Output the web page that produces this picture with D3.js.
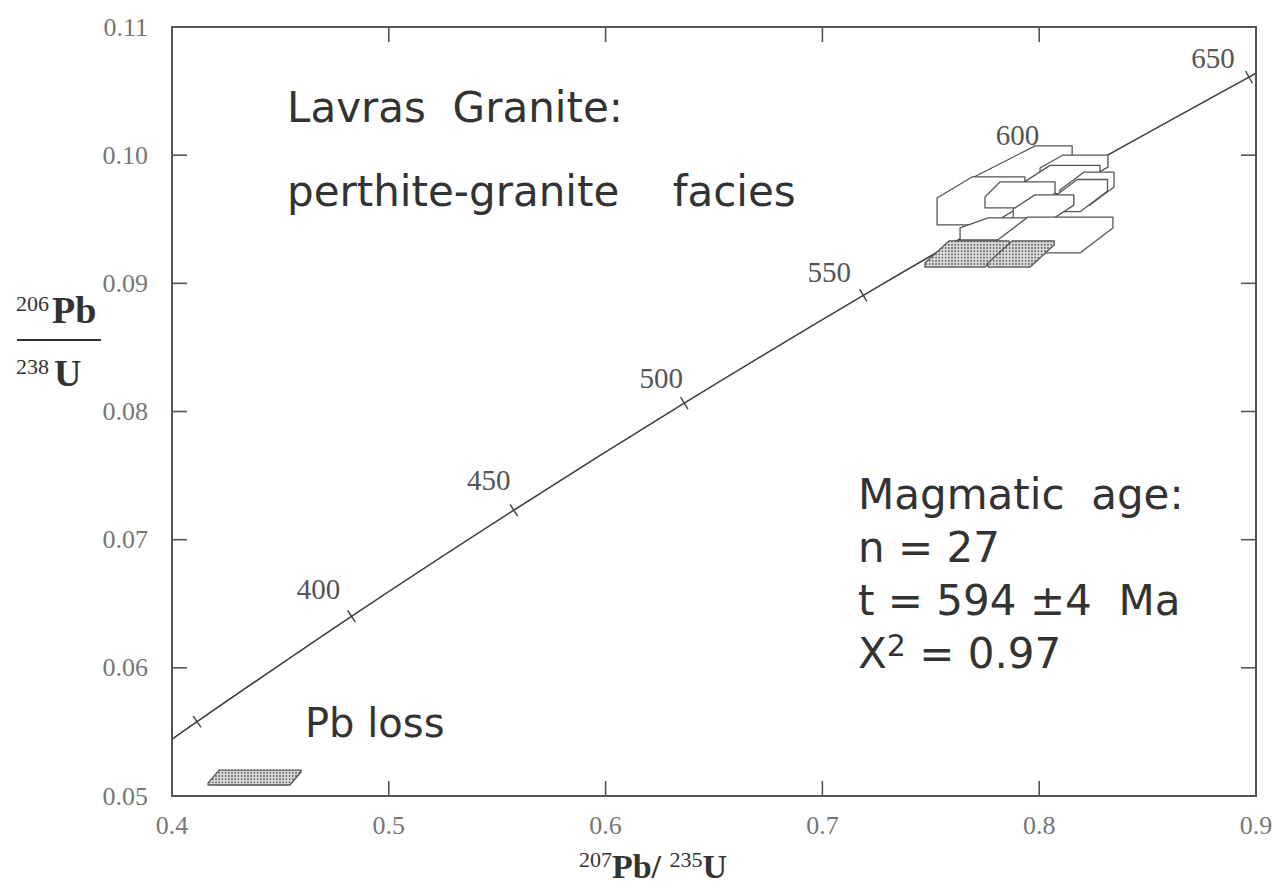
<!DOCTYPE html>
<html>
<head>
<meta charset="utf-8">
<script src="https://cdn.jsdelivr.net/npm/d3@7"></script>
<style>
  html, body { margin: 0; padding: 0; background: #ffffff; }
  svg { display: block; }
</style>
</head>
<body>
<svg id="chart" width="1273" height="892"></svg>
<script>
// Axis ticks
const xTicks = [0.4, 0.5, 0.6, 0.7, 0.8, 0.9];
const yTicks = [0.05, 0.06, 0.07, 0.08, 0.09, 0.10, 0.11];

// Concordia points (age in Ma, 207Pb/235U, 206Pb/238U)
const concordiaAge = [340, 350, 400, 450, 500, 550, 600, 650, 660];
const concordia207 = [0.39773, 0.41156, 0.48281, 0.55766, 0.63628, 0.71887, 0.80563, 0.89677, 0.91554];
const concordia206 = [0.05416, 0.05580, 0.06402, 0.07230, 0.08065, 0.08906, 0.09754, 0.10609, 0.10781];
const markedAges = [350, 400, 450, 500, 550, 600, 650];
const labelledAges = [400, 450, 500, 550, 600, 650];

// Error boxes: [x0, x1, y0, y1, slideX, slideY]
const whiteBoxes = [
  [0.7690, 0.7861, 0.09681, 0.09822, 0.0291, 0.00250],
  [0.8004, 0.8211, 0.09806, 0.09900, 0.0106, 0.00101],
  [0.7930, 0.8160, 0.09700, 0.09790, 0.0120, 0.00130],
  [0.8096, 0.8234, 0.09611, 0.09728, 0.0111, 0.00140],
  [0.8050, 0.8190, 0.09560, 0.09650, 0.0125, 0.00160],
  [0.7529, 0.7773, 0.09456, 0.09666, 0.0161, 0.00164],
  [0.7750, 0.8004, 0.09588, 0.09674, 0.0069, 0.00117],
  [0.7880, 0.8060, 0.09500, 0.09580, 0.0100, 0.00110],
  [0.7635, 0.7819, 0.09338, 0.09432, 0.0129, 0.00078],
  [0.7796, 0.8188, 0.09237, 0.09322, 0.0152, 0.00195]
];
const stippledBoxes = [
  [0.7473, 0.7750, 0.09127, 0.09159, 0.0111, 0.00172],
  [0.7764, 0.7958, 0.09127, 0.09159, 0.0111, 0.00172],
  [0.4166, 0.4544, 0.05086, 0.05101, 0.0051, 0.00101]
];

const titleLines = ["Lavras  Granite:", "perthite-granite    facies"];
const resultLines = ["Magmatic  age:", "n = 27", "t = 594 \u00b14  Ma"];
const chiValue = "0.97";

const svg = d3.select("#chart");
const pLeft = 172, pRight = 1256, pTop = 27, pBottom = 796;

const x = d3.scaleLinear().domain([0.4, 0.9]).range([pLeft, pRight]);
const y = d3.scaleLinear().domain([0.05, 0.11]).range([pBottom, pTop]);

// stipple fill for shaded boxes
const defs = svg.append("defs");
const pat = defs.append("pattern")
  .attr("id", "stipple").attr("patternUnits", "userSpaceOnUse")
  .attr("width", 3.2).attr("height", 3.2);
pat.append("rect").attr("width", 3.2).attr("height", 3.2).attr("fill", "#e0e0e0");
pat.append("circle").attr("cx", 1.6).attr("cy", 1.6).attr("r", 0.95).attr("fill", "#666");

defs.append("clipPath").attr("id", "plotClip")
  .append("rect").attr("x", pLeft).attr("y", pTop).attr("width", pRight - pLeft).attr("height", pBottom - pTop);

const plot = svg.append("g").attr("clip-path", "url(#plotClip)");

// concordia curve
const pts = concordiaAge.map((a, i) => [x(concordia207[i]), y(concordia206[i])]);
plot.append("path")
  .attr("d", d3.line().curve(d3.curveCatmullRom)(pts))
  .attr("fill", "none").attr("stroke", "#3e3e3e").attr("stroke-width", 1.6);

// age marks across the curve
markedAges.forEach(a => {
  const i = concordiaAge.indexOf(a);
  const p0 = pts[i - 1], p1 = pts[i + 1];
  const dx = p1[0] - p0[0], dy = p1[1] - p0[1];
  const len = Math.hypot(dx, dy);
  const nx = -dy / len, ny = dx / len;
  const h = 7;
  plot.append("line")
    .attr("x1", pts[i][0] - nx * h).attr("y1", pts[i][1] - ny * h)
    .attr("x2", pts[i][0] + nx * h).attr("y2", pts[i][1] + ny * h)
    .attr("stroke", "#3e3e3e").attr("stroke-width", 1.4);
});

// age labels
const labelOffset = {400: [-33, -27], 450: [-25, -30], 500: [-23, -25], 550: [-34, -23], 600: [-34, -52], 650: [-36, -19]};
labelledAges.forEach(a => {
  const i = concordiaAge.indexOf(a);
  const o = labelOffset[a];
  svg.append("text")
    .attr("x", pts[i][0] + o[0]).attr("y", pts[i][1] + o[1])
    .attr("text-anchor", "middle").attr("dominant-baseline", "central")
    .attr("font-family", "Liberation Serif, serif").attr("font-size", 29)
    .attr("fill", "#555").text(a);
});

// error boxes
function hexPath(b) {
  const [x0, x1, y0, y1, sx, sy] = b;
  const p = [[x0, y0], [x0, y1], [x0 + sx, y1 + sy], [x1 + sx, y1 + sy], [x1 + sx, y0 + sy], [x1, y0]];
  return "M" + p.map(q => x(q[0]) + "," + y(q[1])).join("L") + "Z";
}
plot.selectAll("path.box").data(whiteBoxes).join("path")
  .attr("class", "box").attr("d", hexPath)
  .attr("fill", "#ffffff").attr("stroke", "#555").attr("stroke-width", 1.3)
  .attr("stroke-linejoin", "round");
plot.selectAll("path.sbox").data(stippledBoxes).join("path")
  .attr("class", "sbox").attr("d", hexPath)
  .attr("fill", "url(#stipple)").attr("stroke", "#555").attr("stroke-width", 1.3)
  .attr("stroke-linejoin", "round");

// frame and inward ticks
svg.append("rect").attr("x", pLeft).attr("y", pTop).attr("width", pRight - pLeft).attr("height", pBottom - pTop)
  .attr("fill", "none").attr("stroke", "#555").attr("stroke-width", 2);
const tl = 15;
const axG = svg.append("g").attr("stroke", "#555").attr("stroke-width", 1.6);
xTicks.slice(1, -1).forEach(v => {
  axG.append("line").attr("x1", x(v)).attr("x2", x(v)).attr("y1", pBottom).attr("y2", pBottom - tl);
  axG.append("line").attr("x1", x(v)).attr("x2", x(v)).attr("y1", pTop).attr("y2", pTop + tl);
});
yTicks.slice(1, -1).forEach(v => {
  axG.append("line").attr("x1", pLeft).attr("x2", pLeft + tl).attr("y1", y(v)).attr("y2", y(v));
  axG.append("line").attr("x1", pRight).attr("x2", pRight - tl).attr("y1", y(v)).attr("y2", y(v));
});

// tick labels
svg.append("g").selectAll("text").data(xTicks).join("text")
  .attr("x", d => x(d)).attr("y", 834).attr("text-anchor", "middle")
  .attr("font-family", "Liberation Serif, serif").attr("font-size", 26).attr("fill", "#777")
  .text(d => d3.format(".1f")(d));
svg.append("g").selectAll("text").data(yTicks).join("text")
  .attr("x", 148).attr("y", d => y(d)).attr("text-anchor", "end").attr("dominant-baseline", "central")
  .attr("font-family", "Liberation Serif, serif").attr("font-size", 26).attr("fill", "#777")
  .text(d => d3.format(".2f")(d));

// axis titles
const serif = "Liberation Serif, serif";
const xl = svg.append("text").attr("x", 653).attr("y", 878).attr("text-anchor", "middle")
  .attr("font-family", serif).attr("fill", "#333");
xl.append("tspan").attr("font-size", 22).attr("dy", -11).text("207");
xl.append("tspan").attr("font-size", 34).attr("font-weight", "bold").attr("dy", 11).text("Pb/ ");
xl.append("tspan").attr("font-size", 22).attr("dy", -11).text("235");
xl.append("tspan").attr("font-size", 34).attr("font-weight", "bold").attr("dy", 11).text("U");

const yl1 = svg.append("text").attr("x", 16).attr("y", 323).attr("font-family", serif).attr("fill", "#333");
yl1.append("tspan").attr("font-size", 22).attr("dy", -12).text("206");
yl1.append("tspan").attr("font-size", 38).attr("font-weight", "bold").attr("dx", 3).attr("dy", 12).text("Pb");
svg.append("line").attr("x1", 17).attr("x2", 101).attr("y1", 340).attr("y2", 340)
  .attr("stroke", "#333").attr("stroke-width", 1.8);
const yl2 = svg.append("text").attr("x", 16).attr("y", 386).attr("font-family", serif).attr("fill", "#333");
yl2.append("tspan").attr("font-size", 22).attr("dy", -12).text("238");
yl2.append("tspan").attr("font-size", 38).attr("font-weight", "bold").attr("dx", 5).attr("dy", 12).text("U");

// annotations
const sans = "DejaVu Sans, sans-serif";
titleLines.forEach((t, i) => {
  svg.append("text").attr("x", 287).attr("y", 122 + i * 84)
    .attr("font-family", sans).attr("font-size", 42).attr("fill", "#333")
    .style("white-space", "pre").text(t);
});
resultLines.forEach((t, i) => {
  svg.append("text").attr("x", 858).attr("y", 509 + i * 53)
    .attr("font-family", sans).attr("font-size", 42).attr("fill", "#333")
    .style("white-space", "pre").text(t);
});
const chi = svg.append("text").attr("x", 858).attr("y", 668)
  .attr("font-family", sans).attr("font-size", 42).attr("fill", "#333").style("white-space", "pre");
chi.append("tspan").text("X");
chi.append("tspan").attr("font-size", 30).attr("dy", -12).text("2");
chi.append("tspan").attr("dy", 12).text(" = " + chiValue);

svg.append("text").attr("x", 305).attr("y", 737)
  .attr("font-family", sans).attr("font-size", 40).attr("fill", "#333")
  .style("white-space", "pre").text("Pb loss");
</script>
</body>
</html>
